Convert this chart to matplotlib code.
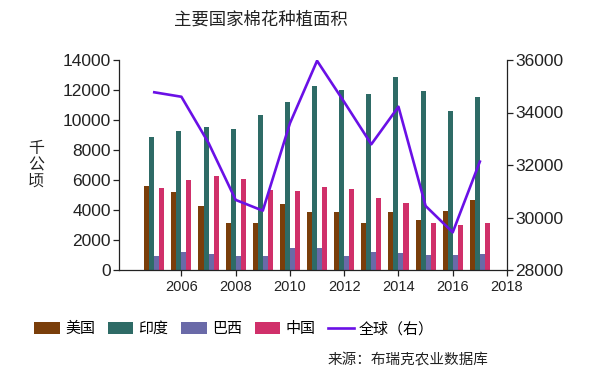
import matplotlib
matplotlib.use("Agg")
import matplotlib.pyplot as plt
from matplotlib.patches import Patch
from matplotlib.lines import Line2D
import numpy as np

plt.rcParams['font.family'] = ['Liberation Sans', 'Noto Sans CJK SC', 'DejaVu Sans']

years = [2005, 2006, 2007, 2008, 2009, 2010, 2011, 2012, 2013, 2014, 2015, 2016, 2017]
usa = [5620, 5180, 4290, 3160, 3160, 4380, 3840, 3840, 3160, 3840, 3330, 3930, 4640]
india = [8890, 9270, 9510, 9420, 10310, 11180, 12270, 11980, 11730, 12890, 11910, 10580, 11560]
brazil = [930, 1200, 1090, 930, 930, 1470, 1440, 930, 1200, 1110, 1020, 1020, 1070]
china = [5440, 5980, 6240, 6070, 5360, 5270, 5560, 5380, 4820, 4470, 3160, 2980, 3160]
world = [34770, 34600, 32840, 30670, 30260, 33590, 35970, 34400, 32790, 34220, 30440, 29435, 32130]

series_names = ['美国', '印度', '巴西', '中国']
line_name = '全球（右）'
colors = ['#7a3e0a', '#2e6b66', '#6a6aa8', '#d0306a']
line_color = '#6a10e6'

fig = plt.figure(figsize=(6, 3.69), dpi=100)
ax = fig.add_axes([119/600, 1-270/369, (507-119)/600, (270-60)/369])
ax2 = ax.twinx()

x = np.array(years, dtype=float)
w = 0.185
for i, (vals, c) in enumerate(zip([usa, india, brazil, china], colors)):
    ax.bar(x + (i - 1.5) * w, vals, width=w, color=c, zorder=2)

ax2.plot(x, world, color=line_color, lw=1.9, zorder=3)

ax.set_xlim(2003.7, 2018)
ax.set_ylim(0, 14000)
ax2.set_ylim(28000, 36000)
ax.set_xticks([2006, 2008, 2010, 2012, 2014, 2016, 2018])
ax.set_yticks(range(0, 14001, 2000))
ax2.set_yticks(range(28000, 36001, 2000))

for a in (ax, ax2):
    a.spines['top'].set_visible(False)
    for s in a.spines.values():
        s.set_color('#222222')
        s.set_linewidth(0.9)
ax.spines['right'].set_visible(False)
ax2.spines['left'].set_visible(False)
ax2.spines['bottom'].set_visible(False)

ax.tick_params(axis='y', labelsize=12.5, length=4, width=0.9, pad=2, colors='#222222')
ax.tick_params(axis='x', labelsize=10.5, length=4, width=0.9, pad=3, colors='#222222')
ax2.tick_params(axis='y', labelsize=12.5, length=4, width=0.9, pad=2, colors='#222222')

fig.text(261/600, 1-20/369, '主要国家棉花种植面积', ha='center', va='center',
         fontsize=12.5, family=['Noto Sans CJK SC', 'DejaVu Sans'], color='#222222')
fig.text(36/600, 1-165/369, '千\n公\n顷', ha='center', va='center', fontsize=11.5,
         family=['Noto Sans CJK SC', 'DejaVu Sans'], linespacing=0.95, color='#222222')

handles = [Patch(facecolor=c, edgecolor='none') for c in colors]
handles.append(Line2D([0], [0], color=line_color, lw=1.9))
labels = series_names + [line_name]
leg = fig.legend(handles, labels, loc='center', bbox_to_anchor=(234/600, 1-329/369), ncol=5,
                 frameon=False, handlelength=1.7, handleheight=0.8, handletextpad=0.35,
                 columnspacing=0.85, prop={'family': ['Noto Sans CJK SC', 'DejaVu Sans'], 'size': 10.8})

fig.text(328/600, 1-360/369, '来源：布瑞克农业数据库', ha='left', va='center', fontsize=10.5,
         family=['Noto Sans CJK SC', 'DejaVu Sans'], color='#222222')

fig.savefig('out.png', dpi=100, facecolor='white')
